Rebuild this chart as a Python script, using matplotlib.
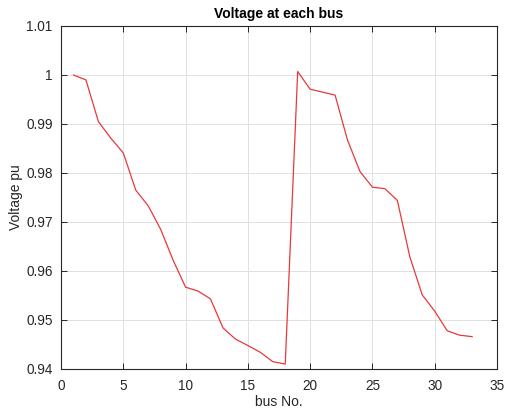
import matplotlib
matplotlib.use("Agg")
import matplotlib.pyplot as plt

bus = list(range(1, 34))
voltage = [1.0000, 0.9990, 0.9905, 0.9871, 0.9841, 0.9765, 0.9733, 0.9685,
           0.9622, 0.9567, 0.9559, 0.9543, 0.9484, 0.9461, 0.9448, 0.9434,
           0.9415, 0.9410, 1.0007, 0.9971, 0.9965, 0.9959, 0.9867, 0.9803,
           0.9771, 0.9768, 0.9744, 0.9629, 0.9551, 0.9518, 0.9478, 0.9469,
           0.9466]
xticks = [0, 5, 10, 15, 20, 25, 30, 35]
yticks = [0.94, 0.95, 0.96, 0.97, 0.98, 0.99, 1.0, 1.01]
ytick_labels = ["0.94", "0.95", "0.96", "0.97", "0.98", "0.99", "1", "1.01"]

plt.rcParams['font.family'] = ['Liberation Sans', 'DejaVu Sans']

fig = plt.figure(figsize=(5.05, 4.12), dpi=100)
fig.patch.set_facecolor('white')
ax = fig.add_axes([0.1208, 0.1044, 0.8634, 0.8325])

ax.plot(bus, voltage, color='#e8383a', linewidth=0.9)

ax.set_xlim(0, 35)
ax.set_ylim(0.94, 1.01)
ax.set_xticks(xticks)
ax.set_yticks(yticks)
ax.set_yticklabels(ytick_labels)
ax.grid(True, color='#e0e0e0', linewidth=0.7)
ax.set_axisbelow(True)

edge = '#262626'
for s in ax.spines.values():
    s.set_color(edge)
    s.set_linewidth(0.8)
ax.tick_params(direction='in', length=4, width=0.7, color=edge, labelcolor=edge,
               labelsize=9.8, top=True, right=True)
ax.tick_params(axis='x', pad=7)
ax.tick_params(axis='y', pad=6)

ax.set_title('Voltage at each bus', fontsize=10, fontweight='bold', color='black', pad=6)
ax.set_xlabel('bus No.', fontsize=10, color=edge, labelpad=2)
ax.set_ylabel('Voltage pu', fontsize=10, color=edge, labelpad=2)

fig.savefig('out.png', dpi=100, facecolor='white')
